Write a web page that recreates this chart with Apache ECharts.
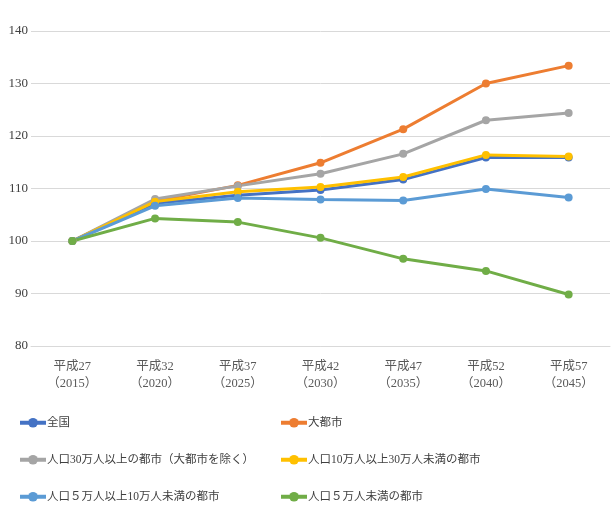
<!DOCTYPE html>
<html lang="ja" style="height: 100%">

<head>
  <meta charset="UTF-8" />
  <title>人口推移</title>
  <script src="https://cdn.jsdelivr.net/npm/echarts@6/dist/echarts.min.js"></script>
</head>

<body style="height: 100%; margin: 0; background: #fff">
  <div id="main" style="width: 614px; height: 526px"></div>
  <script type="text/javascript">
    // 年次ラベル
    var years = ['平成27\n（2015）', '平成32\n（2020）', '平成37\n（2025）', '平成42\n（2030）', '平成47\n（2035）', '平成52\n（2040）', '平成57\n（2045）'];
    // 各区分の指数（平成27=100）
    var zenkoku = [100, 107.2, 108.7, 109.7, 111.7, 115.9, 115.9];
    var daitoshi = [100, 107.6, 110.6, 114.9, 121.3, 130.0, 133.4];
    var over30 = [100, 108.0, 110.5, 112.8, 116.6, 123.0, 124.4];
    var from10to30 = [100, 107.5, 109.4, 110.3, 112.2, 116.4, 116.1];
    var from5to10 = [100, 106.7, 108.2, 107.9, 107.7, 109.9, 108.3];
    var under5 = [100, 104.3, 103.6, 100.6, 96.6, 94.3, 89.8];

    var names = ['全国', '大都市', '人口30万人以上の都市（大都市を除く）', '人口10万人以上30万人未満の都市', '人口５万人以上10万人未満の都市', '人口５万人未満の都市'];
    var colors = ['#4472C4', '#ED7D31', '#A5A5A5', '#FFC000', '#5B9BD5', '#70AD47'];
    var dataList = [zenkoku, daitoshi, over30, from10to30, from5to10, under5];

    var font = "'Liberation Serif', 'Noto Sans CJK JP', serif";

    var series = [];
    for (var i = 0; i < names.length; i++) {
      series.push({
        name: names[i],
        type: 'line',
        data: dataList[i],
        symbol: 'circle',
        symbolSize: 8,
        lineStyle: { width: 3, color: colors[i] },
        itemStyle: { color: colors[i] }
      });
    }

    var legendCommon = {
      orient: 'vertical',
      top: 412,
      itemWidth: 26,
      itemHeight: 12,
      itemGap: 25.5,
      lineStyle: { width: 4 },
      textStyle: { fontFamily: font, fontSize: 11.5, color: '#404040', padding: [0, 0, 0, -4] }
    };

    var myChart = echarts.init(document.getElementById('main'));
    var option = {
      color: colors,
      animation: false,
      textStyle: { fontFamily: font },
      grid: { left: 31, right: 4, top: 31, bottom: 180 },
      legend: [
        Object.assign({ left: 13, data: [names[0], names[2], names[4]] }, legendCommon),
        Object.assign({ left: 274, data: [names[1], names[3], names[5]] }, legendCommon)
      ],
      xAxis: {
        type: 'category',
        data: years,
        boundaryGap: true,
        axisLine: { lineStyle: { color: '#d9d9d9' } },
        axisTick: { show: false },
        axisLabel: { fontFamily: font, fontSize: 12.5, color: '#595959', margin: 12, lineHeight: 17 }
      },
      yAxis: {
        type: 'value',
        min: 80,
        max: 140,
        interval: 10,
        axisLine: { show: false },
        axisTick: { show: false },
        splitLine: { lineStyle: { color: '#d9d9d9', width: 1 } },
        axisLabel: { fontFamily: font, fontSize: 13, color: '#404040', margin: 3 }
      },
      series: series
    };

    if (option && typeof option === 'object') {
      myChart.setOption(option);
    }
    window.addEventListener('resize', myChart.resize);
  </script>
</body>

</html>
